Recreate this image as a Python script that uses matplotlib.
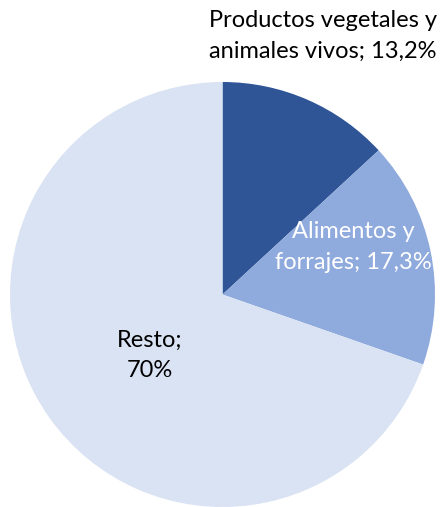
import matplotlib
matplotlib.use("Agg")
import matplotlib.pyplot as plt

# Data
categories = ["Productos vegetales y\nanimales vivos", "Alimentos y\nforrajes", "Resto"]
shares = [13.2, 17.3, 70]
share_labels = ["13,2%", "17,3%", "70%"]
colors = ["#2F5597", "#8FAADC", "#DAE3F3"]
text_colors = ["black", "white", "black"]

plt.rcParams["font.family"] = ["Lato", "DejaVu Sans"]

fig = plt.figure(figsize=(4.44, 5.07), dpi=100)
ax = fig.add_axes([10 / 444, 0, 425 / 444, 425 / 507])

ax.pie(shares, colors=colors, startangle=90, counterclock=False,
       radius=1, wedgeprops={"linewidth": 0})
ax.set_xlim(-1, 1)
ax.set_ylim(-1, 1)
ax.set_aspect("equal")
ax.axis("off")

# label positions in pie units
label_pos = [(0.473, 1.216), (0.614, 0.224), (-0.341, -0.285)]
full_labels = [
    "Productos vegetales y\nanimales vivos; " + share_labels[0],
    "Alimentos y\nforrajes; " + share_labels[1],
    "Resto;\n" + share_labels[2],
]
for (x, y), txt, c in zip(label_pos, full_labels, text_colors):
    ax.text(x, y, txt, ha="center", va="center", color=c, fontsize=17,
            linespacing=1.55, clip_on=False)

fig.savefig("out.png", dpi=100)
